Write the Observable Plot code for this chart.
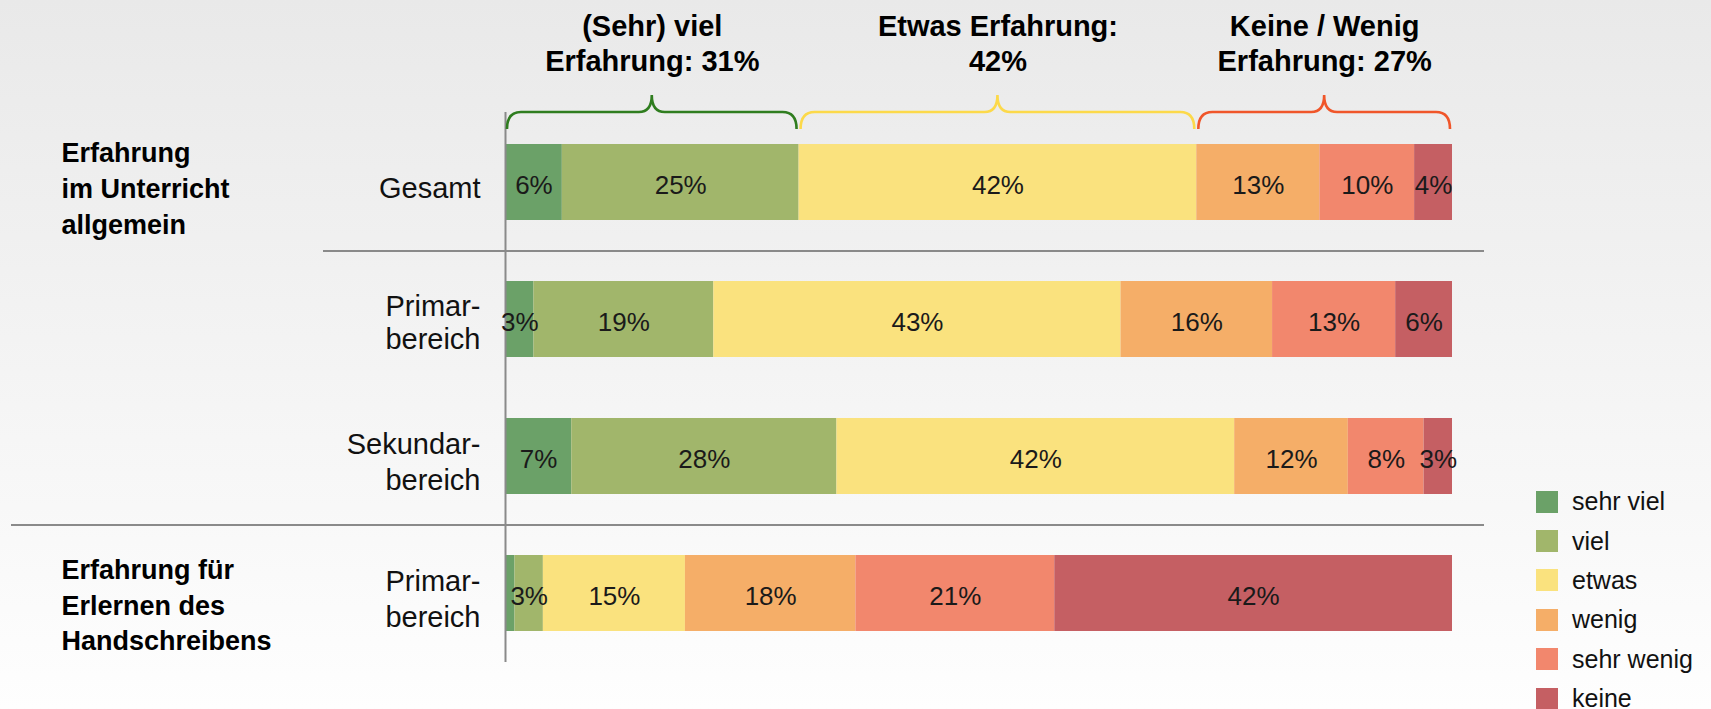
<!DOCTYPE html>
<html>
<head>
<meta charset="utf-8">
<script src="https://cdn.jsdelivr.net/npm/d3@7"></script>
<script src="https://cdn.jsdelivr.net/npm/@observablehq/plot@0.6"></script>
<style>
  html, body { margin: 0; padding: 0; }
  body {
    width: 1711px; height: 709px; overflow: hidden; position: relative;
    background: linear-gradient(to bottom, #e9e9e9 0%, #fefefe 100%);
    font-family: "Liberation Sans", Arial, sans-serif;
  }
  #chart { position: absolute; left: 0; top: 0; }
  #legend { position: absolute; left: 1536px; top: 482px; }
  .lg-row { display: flex; align-items: center; height: 39.4px; }
  .lg-sw { width: 22px; height: 22px; margin-right: 14px; flex: none; }
  .lg-tx { font-size: 25px; color: #111; white-space: nowrap; }
</style>
</head>
<body>
<div id="chart"></div>
<div id="legend"></div>
<script>
// ---- data ----
const levels = ["sehr viel", "viel", "etwas", "wenig", "sehr wenig", "keine"];
const colors = ["#6ba168", "#a1b66b", "#fae27e", "#f5ae68", "#f2876d", "#c55f63"];

const rowKeys = ["Gesamt", "Primar (Unterricht)", "Sekundar (Unterricht)", "Primar (Handschreiben)"];
const rowLabels = ["Gesamt", "Primar-\nbereich", "Sekundar-\nbereich", "Primar-\nbereich"];

const valuesGesamt = [6, 25, 42, 13, 10, 4];
const valuesPrimar = [3, 19, 43, 16, 13, 6];
const valuesSekundar = [7, 28, 42, 12, 8, 3];
const valuesHandschreiben = [1, 3, 15, 18, 21, 42];
const rowValues = [valuesGesamt, valuesPrimar, valuesSekundar, valuesHandschreiben];

const groupPrefixes = ["(Sehr) viel\nErfahrung: ", "Etwas Erfahrung:\n", "Keine / Wenig\nErfahrung: "];
const groupMembers = [[0, 1], [2], [3, 4, 5]];
const groupColors = ["#2f7d1f", "#fcd94a", "#f0562a"];

const sectionLabels = ["Erfahrung\nim Unterricht\nallgemein", "Erfahrung für\nErlernen des\nHandschreibens"];
const sectionRows = [rowKeys[0], rowKeys[3]];
const separatorRows = [rowKeys[0], rowKeys[2]];

// ---- derived tables ----
const data = rowKeys.flatMap((row, i) => levels.map((level, j) => ({row, level, value: rowValues[i][j]})));

const groups = groupMembers.map((members, k) => {
  const start = d3.sum(valuesGesamt.slice(0, members[0]));
  const total = d3.sum(members, m => valuesGesamt[m]);
  return {start, end: start + total, mid: start + total / 2, label: groupPrefixes[k] + total + "%", color: groupColors[k]};
});

const sections = sectionRows.map((row, i) => ({row, label: sectionLabels[i]}));
const rowLabelData = rowKeys.map((key, i) => ({key, label: rowLabels[i], i}));

const font = "'Liberation Sans', Arial, sans-serif";

// brace mark drawn from the group extents through the x scale
function braces(index, scales) {
  const g = d3.create("svg:g").attr("fill", "none").attr("stroke-width", 2.6);
  const yEnd = 129, yLine = 112, yPeak = 95, r = 14, rp = 13;
  for (const grp of groups) {
    const x0 = scales.x(grp.start) + 2, x1 = scales.x(grp.end) - 2, xm = (x0 + x1) / 2;
    const p = `M${x0},${yEnd} Q${x0},${yLine} ${x0 + r},${yLine} L${xm - rp},${yLine} Q${xm},${yLine} ${xm},${yPeak} Q${xm},${yLine} ${xm + rp},${yLine} L${x1 - r},${yLine} Q${x1},${yLine} ${x1},${yEnd}`;
    g.append("path").attr("d", p).attr("stroke", grp.color);
  }
  return g.node();
}

const chart = Plot.plot({
  width: 1711,
  height: 709,
  marginLeft: 505,
  marginRight: 259,
  marginTop: 143,
  marginBottom: 78,
  x: {domain: [0, 100], axis: null},
  y: {domain: rowKeys, axis: null, paddingInner: 0.446, paddingOuter: 0},
  color: {domain: levels, range: colors},
  style: {background: "transparent", fontFamily: font, overflow: "visible"},
  marks: [
    Plot.ruleY(separatorRows.slice(0, 1), {y: d => d, dy: 68.6, stroke: "#8a8a8a", strokeWidth: 2, insetLeft: -182, insetRight: -32}),
    Plot.ruleY(separatorRows.slice(1), {y: d => d, dy: 68.6, stroke: "#8a8a8a", strokeWidth: 2, insetLeft: -494, insetRight: -32}),
    Plot.barX(data, Plot.stackX({x: "value", y: "row", fill: "level", order: null})),
    Plot.ruleX([0], {stroke: "#8a8a8a", strokeWidth: 2, insetTop: -31, insetBottom: -31}),
    Plot.text(data, Plot.stackX({x: "value", y: "row", z: "level", order: null,
      text: d => d.value >= 2 ? d.value + "%" : null, fill: "#1a1a1a", fontSize: 26, dy: 3})),
    Plot.text(rowLabelData.filter(d => d.i !== 1), {y: "key", text: "label", frameAnchor: "left", dx: -25,
      textAnchor: "end", lineAnchor: "middle", fontSize: 29, lineHeight: 1.22, fill: "#111", dy: 4}),
    Plot.text(rowLabelData.filter(d => d.i === 1), {y: "key", text: "label", frameAnchor: "left", dx: -25,
      textAnchor: "end", lineAnchor: "middle", fontSize: 29, lineHeight: 1.15, fill: "#111", dy: 2}),
    Plot.text(sections.slice(0, 1), {y: "row", text: "label", frameAnchor: "left", dx: -444, dy: 4,
      textAnchor: "start", lineAnchor: "middle", fontSize: 27, fontWeight: "bold", lineHeight: 1.33, fill: "#000"}),
    Plot.text(sections.slice(1), {y: "row", text: "label", frameAnchor: "left", dx: -444, dy: 10,
      textAnchor: "start", lineAnchor: "middle", fontSize: 27, fontWeight: "bold", lineHeight: 1.31, fill: "#000"}),
    Plot.text(groups, {x: "mid", text: "label", frameAnchor: "top", dy: -101.5, lineAnchor: "middle",
      fontSize: 29, fontWeight: "bold", lineHeight: 1.2, fill: "#000"}),
    braces
  ]
});
document.getElementById("chart").appendChild(chart);

// legend
const legend = d3.select("#legend");
levels.forEach((lv, i) => {
  const row = legend.append("div").attr("class", "lg-row");
  row.append("div").attr("class", "lg-sw").style("background", colors[i]);
  row.append("div").attr("class", "lg-tx").text(lv);
});
</script>
</body>
</html>
